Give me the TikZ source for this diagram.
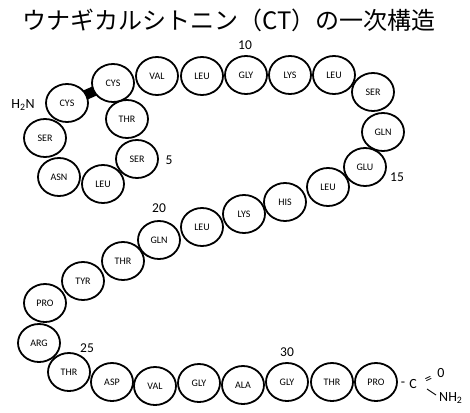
\documentclass[tikz,border=0pt]{standalone}
\usepackage{fontspec}
\setmainfont{Carlito}
\newfontfamily\cjk{Noto Sans CJK JP}
\usetikzlibrary{shapes.geometric,backgrounds}
\begin{document}
\begin{tikzpicture}[x=1pt,y=-1pt,
  res/.style={ellipse,draw,line width=1.8pt,fill=white,minimum width=42pt,minimum height=38pt,inner sep=0pt,font=\fontsize{10}{12}\selectfont},
  num/.style={font=\fontsize{13.5}{15}\selectfont,inner sep=0pt},
  chem/.style={font=\fontsize{14}{16}\selectfont,inner sep=0pt},
  bondline/.style={line width=10pt},
  thinbond/.style={line width=0.9pt}]
\useasboundingbox (0,0) rectangle (470,412);
\node[font=\cjk\fontsize{24}{28}\selectfont,inner sep=0pt] (title) at (229,20) {ウナギカルシトニン（CT）の一次構造};
% residues
\node[res] (r1) at (67,103) {CYS};
\node[res] (r2) at (45,138) {SER};
\node[res] (r3) at (59,177) {ASN};
\node[res] (r4) at (103,184) {LEU};
\node[res] (r5) at (137,159) {SER};
\node[res] (r6) at (127,119) {THR};
\node[res] (r7) at (113,83) {CYS};
\node[res] (r8) at (157,76) {VAL};
\node[res] (r9) at (202,76) {LEU};
\node[res] (r10) at (246,75) {GLY};
\node[res] (r11) at (290,75) {LYS};
\node[res] (r12) at (334,75) {LEU};
\node[res] (r13) at (373,92) {SER};
\node[res] (r14) at (383,132) {GLN};
\node[res] (r15) at (365,167) {GLU};
\node[res] (r16) at (328,187) {LEU};
\node[res] (r17) at (285,202) {HIS};
\node[res] (r18) at (244,214) {LYS};
\node[res] (r19) at (202,227) {LEU};
\node[res] (r20) at (159,240) {GLN};
\node[res] (r21) at (123,261) {THR};
\node[res] (r22) at (83,281) {TYR};
\node[res] (r23) at (45,303) {PRO};
\node[res] (r24) at (39,343) {ARG};
\node[res] (r25) at (69,372) {THR};
\node[res] (r26) at (112,382) {ASP};
\node[res] (r27) at (155,386) {VAL};
\node[res] (r28) at (199,383) {GLY};
\node[res] (r29) at (243,385) {ALA};
\node[res] (r30) at (287,382) {GLY};
\node[res] (r31) at (332,382) {THR};
\node[res] (r32) at (376,382) {PRO};
% disulfide bond
\begin{scope}[on background layer]
\draw[bondline] (r1.center) -- (r7.center);
\end{scope}
% numbers
\node[num] (n5) at (169,160) {5};
\node[num] (n10) at (245,45) {10};
\node[num] (n15) at (397,177) {15};
\node[num] (n20) at (159,208) {20};
\node[num] (n25) at (87,348) {25};
\node[num] (n30) at (287,352) {30};
% termini
\node[chem] (h2n) at (23,105) {H\textsubscript{2}N};
\node[chem] (dash) at (403,384) {-};
\node[chem] (cc) at (413,384) {C};
\node[chem,rotate=25] (dbl) at (429,380) {=};
\node[chem] (oo) at (441,373) {0};
\coordinate (sb1) at (427,389);
\coordinate (sb2) at (436,395);
\draw[thinbond] (sb1) -- (sb2);
\node[chem,anchor=west] (nh2) at (439,398) {NH\textsubscript{2}};
\end{tikzpicture}
\end{document}
